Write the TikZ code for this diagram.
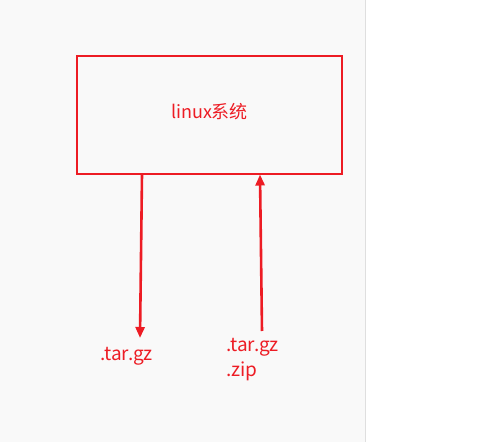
\documentclass[tikz,border=0pt]{standalone}
\usepackage{fontspec}
\setmainfont{Noto Sans CJK SC}
\usetikzlibrary{arrows.meta}
\definecolor{boxred}{HTML}{ED1C24}
\definecolor{pagegray}{HTML}{F9F9F9}

\begin{document}
\begin{tikzpicture}[x=1pt,y=-1pt,line join=miter,
    label/.style={text=boxred,font=\fontsize{19}{25}\selectfont,inner sep=0pt},
    flow/.style={draw=boxred,line width=2.6pt,-{Triangle[length=11pt,width=9pt]}}]
    \useasboundingbox (0,0) rectangle (483,442);
    \fill[pagegray] (0,0) rectangle (365,442);
    \draw[gray!25,line width=1pt] (365.5,0) -- (365.5,442);
    \node[draw=boxred,line width=2pt,minimum width=265pt,minimum height=118pt,
      label,font=\fontsize{18}{22}\selectfont,text depth=0pt] (sys) at (209.5,114.5) {\raisebox{8pt}{linux系统}};
    \node[label,anchor=west] (tgz) at (100,356) {.tar.gz};
    \node[label,anchor=west,align=left] (pkgs) at (226,359.5) {.tar.gz\\.zip};
    \coordinate (outEnd) at (140,338);
    \coordinate (inStart) at (262,331);
    \draw[flow] ([xshift=-67.5pt]sys.south) -- (outEnd);
    \draw[flow] (inStart) -- ([xshift=50.5pt]sys.south);
  \end{tikzpicture}
\end{document}
